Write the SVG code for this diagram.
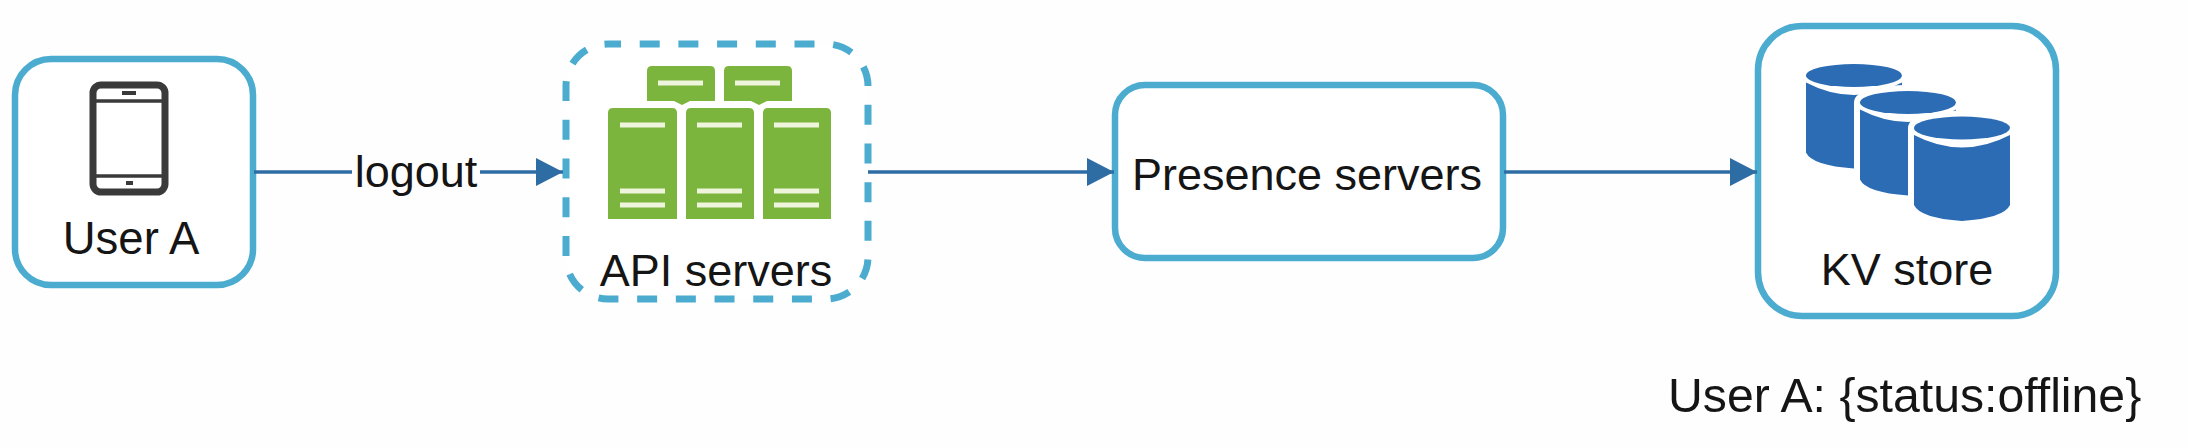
<svg xmlns="http://www.w3.org/2000/svg" width="2188" height="448" viewBox="0 0 2188 448">
<style>
.box{fill:#fff;stroke:#4bacd0;stroke-width:6.5}
.dash{fill:#fff;stroke:#4bacd0;stroke-width:7;stroke-dasharray:20 18.700;stroke-dashoffset:7}
text{font-family:"Liberation Sans",Arial,sans-serif;font-size:45px;fill:#151515}
.conn{fill:none;stroke:#2e6ca4;stroke-width:3.5;marker-end:url(#arrow)}
.green{fill:#7cb53e}
.gline{stroke:#eef5dc;stroke-width:5}
.blue{fill:#2b6cb5}
.halo{fill:#fff;stroke:#fff;stroke-width:12}
.tab{fill:none;stroke:#3a3a3a}
</style>
<defs>
<marker id="arrow" markerUnits="userSpaceOnUse" markerWidth="28" markerHeight="28" refX="27" refY="14" orient="auto">
<path d="M0 0L27 14L0 28Z" fill="#2e6ca4"/>
</marker>
<path id="cyl-body" d="M-48 7Q0 32 48 7V77Q42 90 0 93Q-42 90 -48 77Z"/>
<path id="cyl-halo" d="M-48 0A48 11.500 0 0 1 48 0V77Q42 90 0 93Q-42 90 -48 77Z"/>
<ellipse id="cyl-top" cx="0" cy="0" rx="48" ry="11.500"/>
</defs>
<rect width="2188" height="448" fill="#fefefe"/>
<g id="user-a">
<rect class="box" x="15" y="59" width="238" height="226" rx="36"/>
<rect class="tab" x="93" y="85" width="72" height="107" rx="8" stroke-width="7"/>
<path class="tab" stroke-width="3.500" d="M93 101H165M93 176H165"/>
<path class="tab" stroke-width="4" d="M122 93H136M126 183H133"/>
<text x="131" y="254" text-anchor="middle" style="font-size:45.500px">User A</text>
</g>
<g id="api-servers">
<rect class="dash" x="566" y="44" width="302" height="255" rx="42"/>
<path class="green" d="M647 101V71q0-5 5-5H710q5 0 5 5V101Z"/>
<path class="green" d="M724 101V71q0-5 5-5H787q5 0 5 5V101Z"/>
<path class="green" d="M674 101H690L682 105ZM751 101H767L759 105Z"/>
<path class="green" d="M608 219V113q0-5 5-5H672q5 0 5 5V219Z"/>
<path class="green" d="M686 219V113q0-5 5-5H749q5 0 5 5V219Z"/>
<path class="green" d="M763 219V113q0-5 5-5H826q5 0 5 5V219Z"/>
<path class="gline" d="M658 83H703M735 83H780M620 125H665M620 191H665M620 205H665M697 125H742M697 191H742M697 205H742M774 125H819M774 191H819M774 205H819"/>
<text x="716" y="286" text-anchor="middle">API servers</text>
</g>
<g id="presence-servers">
<rect class="box" x="1115" y="85" width="388" height="173" rx="30"/>
<text x="1307" y="190" text-anchor="middle">Presence servers</text>
</g>
<g id="kv-store">
<rect class="box" x="1758" y="26" width="298" height="290" rx="44"/>
<g transform="translate(1854 75.500)"><use href="#cyl-body" class="blue"/><use href="#cyl-top" class="blue"/></g>
<g transform="translate(1908 102.500)"><use href="#cyl-halo" class="halo"/><use href="#cyl-body" class="blue"/><use href="#cyl-top" class="blue"/></g>
<g transform="translate(1962 128)"><use href="#cyl-halo" class="halo"/><use href="#cyl-body" class="blue"/><use href="#cyl-top" class="blue"/></g>
<text x="1907" y="285" text-anchor="middle">KV store</text>
</g>
<g id="connectors">
<path class="conn" d="M254 172H563"/>
<rect x="352" y="150" width="128" height="44" fill="#fefefe"/>
<text x="416" y="187" text-anchor="middle">logout</text>
<path class="conn" d="M868 172H1114"/>
<path class="conn" d="M1504 172H1757"/>
</g>
<text id="status-note" x="1668" y="412" style="font-size:48.200px">User A: {status:offline}</text>
</svg>
